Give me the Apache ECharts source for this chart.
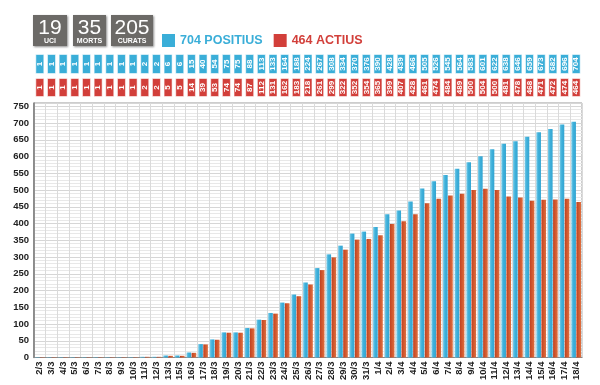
<!DOCTYPE html>
<html><head><meta charset="utf-8">
<script src="https://cdn.jsdelivr.net/npm/echarts@6/dist/echarts.min.js"></script>
<style>html,body{margin:0;padding:0;background:#fff}#c{width:600px;height:385px}</style>
</head><body><div id="c"></div>
<script>
const dates = ['2/3','3/3','4/3','5/3','6/3','7/3','8/3','9/3','10/3','11/3','12/3','13/3','15/3','16/3','17/3','18/3','19/3','20/3','21/3','22/3','23/3','24/3','25/3','26/3','27/3','28/3','29/3','30/3','31/3','1/4','2/4','3/4','4/4','5/4','6/4','7/4','8/4','9/4','10/4','11/4','12/4','13/4','14/4','15/4','16/4','17/4','18/4'];
const positius = [1,1,1,1,1,1,1,1,1,2,2,6,6,15,40,54,75,75,88,113,133,164,188,224,267,308,334,370,376,390,428,439,466,505,526,545,564,583,601,622,638,646,659,673,682,696,704];
const actius = [1,1,1,1,1,1,1,1,1,2,2,5,5,14,39,53,74,74,87,112,131,162,183,218,261,299,322,352,354,365,399,407,428,461,474,484,489,500,504,500,481,478,468,471,472,474,464];
const headerValues = [19, 35, 205];
const headerLabels = ['UCI', 'MORTS', 'CURATS'];
const seriesNames = ['POSITIUS', 'ACTIUS'];

const BLUE = '#3aaed8', RED = '#d23f3a';
const nameP = positius[positius.length - 1] + ' ' + seriesNames[0];
const nameA = actius[actius.length - 1] + ' ' + seriesNames[1];

const boxes = [{x: 33, w: 34}, {x: 73, w: 33}, {x: 111, w: 42}];
const graphic = headerValues.map((v, i) => ({
  type: 'group', left: boxes[i].x, top: 15,
  children: [
    {type: 'rect', shape: {x: 0, y: 0, width: boxes[i].w, height: 31},
     style: {fill: '#6c6a67', shadowBlur: 2, shadowOffsetX: 1, shadowOffsetY: 1, shadowColor: 'rgba(0,0,0,0.45)'}},
    {type: 'text', style: {text: String(v), x: boxes[i].w / 2, y: 13, textAlign: 'center', textVerticalAlign: 'middle',
      fill: '#fff', font: '21px "Liberation Sans"'}},
    {type: 'text', style: {text: headerLabels[i], x: boxes[i].w / 2, y: 26.5, textAlign: 'center', textVerticalAlign: 'middle',
      fill: '#fff', font: 'bold 7px "Liberation Sans"'}}
  ]
}));

const chart = echarts.init(document.getElementById('c'), null, {renderer: 'canvas'});
const topBox = arr => arr.map(v => ({value: 1, raw: v}));
chart.setOption({
  animation: false,
  graphic: graphic,
  legend: {
    left: 162, top: 34, padding: 0, itemWidth: 13, itemHeight: 13, itemGap: 11, icon: 'rect',
    selectedMode: false,
    data: [
      {name: nameP, itemStyle: {color: BLUE}, textStyle: {color: BLUE}},
      {name: nameA, itemStyle: {color: RED}, textStyle: {color: RED}}
    ],
    textStyle: {fontFamily: 'Liberation Sans', fontWeight: 'bold', fontSize: 12.5}
  },
  grid: [
    {left: 34, right: 18, top: 103, bottom: 27.5, show: true, borderColor: '#9a9a9a', borderWidth: 1},
    {left: 34, right: 18, top: 54, height: 20},
    {left: 34, right: 18, top: 78, height: 19}
  ],
  xAxis: [
    {type: 'category', data: dates, gridIndex: 0,
     axisTick: {show: false}, axisLine: {lineStyle: {color: '#888'}},
     splitLine: {show: true, lineStyle: {color: '#dadada'}},
     axisLabel: {rotate: 90, interval: 0, margin: 4, color: '#222', fontWeight: 'bold', fontSize: 9.5, fontFamily: 'Liberation Sans'}},
    {type: 'category', data: dates, gridIndex: 1, show: false},
    {type: 'category', data: dates, gridIndex: 2, show: false}
  ],
  yAxis: [
    {type: 'value', gridIndex: 0, min: 0, max: 760, interval: 50,
     axisLine: {show: true, lineStyle: {color: '#777', width: 1.5}}, axisTick: {show: false},
     axisLabel: {showMaxLabel: false, margin: 5, color: '#222', fontWeight: 'bold', fontSize: 9.5, fontFamily: 'Liberation Sans'},
     splitLine: {lineStyle: {color: '#d6d6d6'}},
     minorTick: {show: false, splitNumber: 5},
     minorSplitLine: {show: true, lineStyle: {color: '#e8e8e8'}}},
    {type: 'value', gridIndex: 1, min: 0, max: 1, show: false},
    {type: 'value', gridIndex: 2, min: 0, max: 1, show: false}
  ],
  series: [
    {name: nameP, type: 'bar', xAxisIndex: 0, yAxisIndex: 0, data: positius, barWidth: 4.6, barGap: '10%',
     itemStyle: {color: new echarts.graphic.LinearGradient(0, 0, 1, 0, [
       {offset: 0, color: '#79cbe8'}, {offset: 0.45, color: '#3eb0da'}, {offset: 1, color: '#33a5d2'}])}},
    {name: nameA, type: 'bar', xAxisIndex: 0, yAxisIndex: 0, data: actius, barWidth: 4.6, barGap: '10%',
     itemStyle: {color: new echarts.graphic.LinearGradient(0, 0, 1, 0, [
       {offset: 0, color: '#c0401f'}, {offset: 1, color: '#e0703f'}])}},
    {type: 'bar', xAxisIndex: 1, yAxisIndex: 1, data: topBox(positius), barWidth: 9, silent: true,
     itemStyle: {color: BLUE, borderColor: 'rgba(255,255,255,0.55)', borderWidth: 1},
     label: {show: true, position: 'inside', rotate: 90, color: '#fff', fontWeight: 'bold', fontSize: 8,
       fontFamily: 'Liberation Sans', formatter: p => String(positius[p.dataIndex])}},
    {type: 'bar', xAxisIndex: 2, yAxisIndex: 2, data: topBox(actius), barWidth: 9, silent: true,
     itemStyle: {color: RED, borderColor: 'rgba(255,255,255,0.55)', borderWidth: 1},
     label: {show: true, position: 'inside', rotate: 90, color: '#fff', fontWeight: 'bold', fontSize: 8,
       fontFamily: 'Liberation Sans', formatter: p => String(actius[p.dataIndex])}}
  ]
});
</script></body></html>
